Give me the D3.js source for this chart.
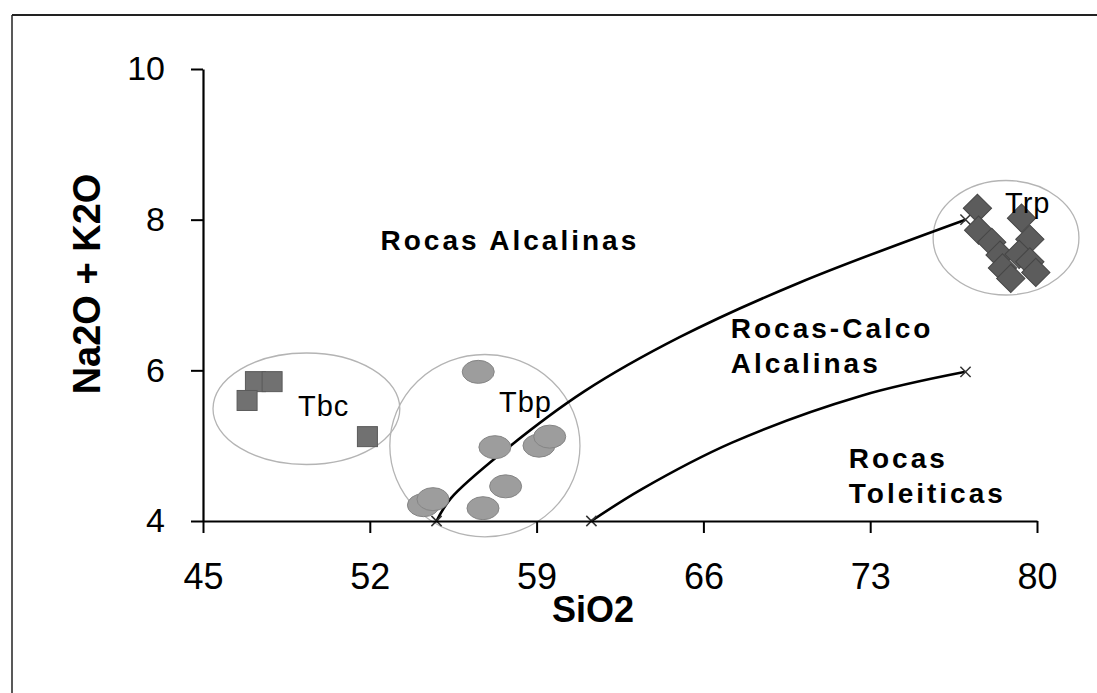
<!DOCTYPE html>
<html>
<head>
<meta charset="utf-8">
<script src="https://cdn.jsdelivr.net/npm/d3@7"></script>
<style>
  html, body { margin: 0; padding: 0; background: #fff; }
  svg { display: block; }
  text { font-family: Arial, "Liberation Sans", sans-serif; fill: #000; }
</style>
</head>
<body>
<svg id="chart" width="1097" height="693"></svg>
<script>
// Axis ticks
const xTicks = [45, 52, 59, 66, 73, 80];
const yTicks = [4, 6, 8, 10];

// Samples (SiO2, Na2O + K2O)
const tbcSiO2 = [47.2, 47.9, 46.85, 51.9];
const tbcAlk  = [5.85, 5.85, 5.6, 5.12];

const tbpSiO2 = [56.55, 57.25, 59.1, 59.55, 57.7, 56.75, 54.25, 54.65];
const tbpAlk  = [5.98, 4.98, 5.0, 5.12, 4.46, 4.17, 4.21, 4.29];

const trpSiO2 = [77.5, 77.55, 78.1, 78.45, 78.55, 78.9, 79.35, 79.7, 79.25, 79.7, 79.95];
const trpAlk  = [8.15, 7.86, 7.7, 7.53, 7.36, 7.22, 8.02, 7.74, 7.54, 7.44, 7.3];

// Field boundaries
const alkBoundarySiO2 = [54.8, 55.4, 57.6, 61.0, 65.0, 70.0, 77.0];
const alkBoundaryAlk  = [4.0, 4.3, 4.92, 5.72, 6.44, 7.16, 8.0];
const thBoundarySiO2  = [61.3, 63.4, 67.2, 72.6, 77.0];
const thBoundaryAlk   = [4.0, 4.42, 5.04, 5.66, 5.98];

// Group outlines: centre and half-axes in data units
const groupNames = ["Tbc", "Tbp", "Trp"];
const groupCx = [49.34, 56.83, 78.7];
const groupCy = [5.49, 5.0, 7.76];
const groupRx = [3.92, 3.99, 3.06];
const groupRy = [0.74, 1.21, 0.76];

// Field names
const fieldLines = [["Rocas Alcalinas"], ["Rocas-Calco", "Alcalinas"], ["Rocas", "Toleiticas"]];
const fieldSiO2 = [52.45, 67.15, 72.1];
const fieldAlk  = [7.6, 6.43, 4.7];

const svg = d3.select("#chart");

// Outer frame
svg.append("line").attr("x1", 12).attr("x2", 1097).attr("y1", 15).attr("y2", 15)
  .attr("stroke", "#222").attr("stroke-width", 2);
svg.append("line").attr("x1", 12).attr("x2", 12).attr("y1", 15).attr("y2", 693)
  .attr("stroke", "#222").attr("stroke-width", 1.5);

const x = d3.scaleLinear().domain([45, 80]).range([203, 1037]);
const y = d3.scaleLinear().domain([4, 10]).range([521, 69]);

// Group outlines
groupNames.forEach((g, i) => {
  svg.append("ellipse")
    .attr("cx", x(groupCx[i])).attr("cy", y(groupCy[i]))
    .attr("rx", x(groupCx[i] + groupRx[i]) - x(groupCx[i]))
    .attr("ry", y(groupCy[i]) - y(groupCy[i] + groupRy[i]))
    .attr("fill", "none").attr("stroke", "#b4b4b4").attr("stroke-width", 1.3);
});

// Boundary curves
const line = d3.line().x(d => x(d[0])).y(d => y(d[1])).curve(d3.curveCatmullRom.alpha(0.5));
const alkBoundary = alkBoundarySiO2.map((v, i) => [v, alkBoundaryAlk[i]]);
const thBoundary = thBoundarySiO2.map((v, i) => [v, thBoundaryAlk[i]]);
[alkBoundary, thBoundary].forEach(pts => {
  svg.append("path").attr("d", line(pts))
    .attr("fill", "none").attr("stroke", "#000").attr("stroke-width", 2.6);
  [pts[0], pts[pts.length - 1]].forEach(p => {
    svg.append("path")
      .attr("d", d3.symbol(d3.symbolX, 70)())
      .attr("transform", `translate(${x(p[0])},${y(p[1])})`)
      .attr("fill", "none").attr("stroke", "#333").attr("stroke-width", 1.5);
  });
});

// Axes
const xAxis = d3.axisBottom(x).tickValues(xTicks).tickSize(12).tickSizeOuter(0).tickPadding(30)
  .tickFormat(d3.format("d"));
const yAxis = d3.axisLeft(y).tickValues(yTicks).tickSize(12).tickSizeOuter(0).tickPadding(26)
  .tickFormat(d3.format("d"));

const gx = svg.append("g").attr("transform", `translate(0,${y(4)})`).call(xAxis);
gx.select(".domain").attr("stroke", "#000").attr("stroke-width", 2.2);
gx.selectAll(".tick line").attr("stroke", "#000").attr("stroke-width", 2);
gx.selectAll(".tick text").attr("font-size", 36).attr("font-family", "Arial, 'Liberation Sans', sans-serif")
  .attr("fill", "#111");

const gy = svg.append("g").attr("transform", `translate(${x(45)},0)`).call(yAxis);
gy.select(".domain").attr("stroke", "#000").attr("stroke-width", 2.2);
gy.selectAll(".tick line").attr("stroke", "#000").attr("stroke-width", 2);
gy.selectAll(".tick text").attr("font-size", 34).attr("font-family", "Arial, 'Liberation Sans', sans-serif")
  .attr("fill", "#111");

// Tbp samples (ellipses)
svg.append("g").selectAll("ellipse").data(tbpSiO2).join("ellipse")
  .attr("cx", (d, i) => x(d)).attr("cy", (d, i) => y(tbpAlk[i]))
  .attr("rx", 16).attr("ry", 11.5)
  .attr("fill", "#9d9d9d").attr("stroke", "#858585").attr("stroke-width", 1);

// Tbc samples (squares)
svg.append("g").selectAll("rect").data(tbcSiO2).join("rect")
  .attr("x", d => x(d) - 10).attr("y", (d, i) => y(tbcAlk[i]) - 10)
  .attr("width", 20).attr("height", 20)
  .attr("fill", "#717171").attr("stroke", "#5a5a5a").attr("stroke-width", 1);

// Trp samples (diamonds)
svg.append("g").selectAll("rect").data(trpSiO2).join("rect")
  .attr("x", -10).attr("y", -10).attr("width", 20).attr("height", 20)
  .attr("transform", (d, i) => `translate(${x(d)},${y(trpAlk[i])}) rotate(45)`)
  .attr("fill", "#5c5c5c").attr("stroke", "#464646").attr("stroke-width", 1);

// Group labels
const groupLabelPos = [[298, 416], [499, 412], [1005, 213]];
groupNames.forEach((g, i) => {
  svg.append("text").attr("x", groupLabelPos[i][0]).attr("y", groupLabelPos[i][1])
    .attr("font-size", 29).attr("letter-spacing", 1).text(g);
});

// Field names
fieldLines.forEach((lines, i) => {
  const t = svg.append("text").attr("x", x(fieldSiO2[i])).attr("y", y(fieldAlk[i]))
    .attr("font-size", 28).attr("font-weight", "bold").attr("letter-spacing", 3);
  lines.forEach((s, j) => {
    t.append("tspan").attr("x", x(fieldSiO2[i])).attr("dy", j === 0 ? 0 : 35).text(s);
  });
});

// Axis titles
svg.append("text").attr("x", 593).attr("y", 622).attr("text-anchor", "middle")
  .attr("font-size", 36).attr("font-weight", "bold").text("SiO2");
svg.append("text").attr("transform", "translate(100,284) rotate(-90)").attr("text-anchor", "middle")
  .attr("font-size", 38).attr("font-weight", "bold").text("Na2O + K2O");
</script>
</body>
</html>
